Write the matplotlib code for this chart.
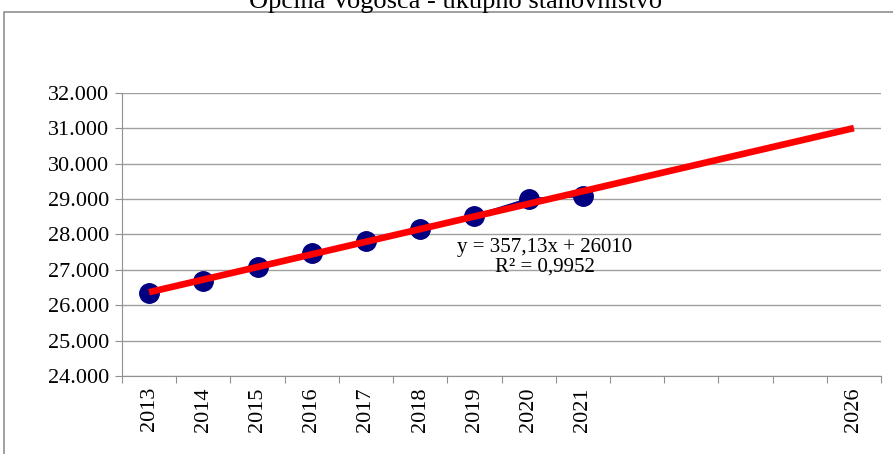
import numpy as np
from matplotlib import pyplot as plt
import matplotlib as mpl
from matplotlib.patches import Rectangle

mpl.rcParams['font.family'] = ['Liberation Serif', 'DejaVu Serif']
mpl.rcParams['font.size'] = 15

years = ['2013', '2014', '2015', '2016', '2017', '2018', '2019', '2020', '2021',
         '', '', '', '', '2026']
population = [26350, 26690, 27090, 27465, 27830, 28145, 28530, 29010, 29085]
slope = 357.13
intercept = 26010

fig = plt.figure(figsize=(8.93, 4.54), dpi=100)
ax = fig.add_axes([0.1366, 0.172, 0.85, 0.623])

# outer chart frame
fig.patches.append(Rectangle((4/893, -0.1), 1.2, 1.1 - 12/454,
                             transform=fig.transFigure, fill=False,
                             edgecolor='#909090', linewidth=1.2))
fig.text(0.51, 1 - 8/454, 'Općina Vogošća - ukupno stanovništvo',
         ha='center', va='baseline', fontsize=19)

x = np.arange(1, len(population) + 1)
ax.plot(x, population, color='#000080', linewidth=1.5, marker='o',
        markersize=14, zorder=3)

xt = np.array([1, len(years)])
ax.plot(xt, slope * xt + intercept, color='#ff0000', linewidth=4.8, zorder=4,
        solid_capstyle='butt')

ax.text(8.3, 27360, 'y = 357,13x + 26010\nR² = 0,9952', ha='center', va='center',
        linespacing=1.05, fontsize=15, zorder=5)

ax.set_xlim(0.5, len(years) + 0.5)
ax.set_ylim(24000, 32000)
ax.set_yticks(np.arange(24000, 32001, 1000))
ax.set_yticklabels([f'{v // 1000}.000' for v in range(24000, 32001, 1000)],
                   fontsize=16)
ax.yaxis.grid(True, color='#a0a0a0', linewidth=1.0)
ax.set_axisbelow(True)

ax.set_xticks(np.arange(0.5, len(years) + 1, 1))
ax.set_xticklabels([])
ax.set_xticks(np.arange(1, len(years) + 1), minor=True)
ax.set_xticklabels(years, minor=True, rotation=90, va='top', fontsize=16)
ax.tick_params(axis='x', which='minor', length=0, pad=8)
ax.tick_params(axis='x', which='major', length=5, color='#909090')
ax.tick_params(axis='y', length=5, color='#909090', pad=4)

for s in ['top', 'right']:
    ax.spines[s].set_visible(False)
for s in ['left', 'bottom']:
    ax.spines[s].set_color('#909090')

plt.savefig('out.png', dpi=100)
